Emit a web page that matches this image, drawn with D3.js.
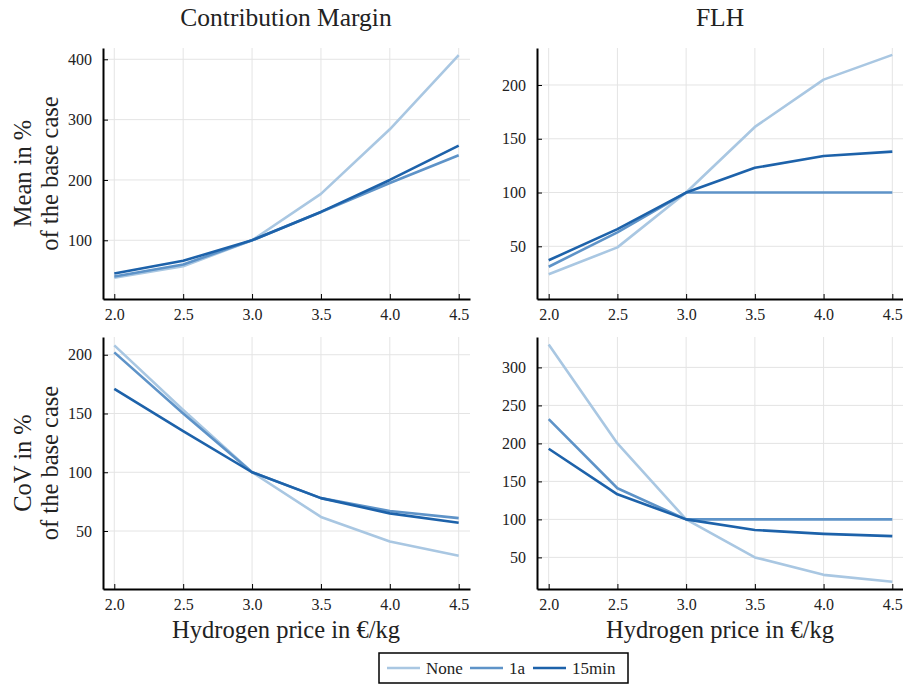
<!DOCTYPE html>
<html><head><meta charset="utf-8">
<script src="https://cdn.jsdelivr.net/npm/d3@7"></script>
<style>body{margin:0;background:#fff}svg{display:block}svg text{font-family:'Liberation Serif','DejaVu Serif','Times New Roman',serif !important;fill:#222}</style>
</head><body><svg id="c" width="903" height="686"></svg>
<script>
const xPrices = [2.0, 2.5, 3.0, 3.5, 4.0, 4.5];
const xTicks = [2.0, 2.5, 3.0, 3.5, 4.0, 4.5];
const seriesNames = ["None", "1a", "15min"];
const seriesColors = ["#a9c7e2", "#5e93c8", "#1d62aa"];

// Mean, Contribution Margin
const meanCM_None  = [38, 57, 100, 177, 284, 407];
const meanCM_1a    = [40, 60, 100, 147, 195, 241];
const meanCM_15min = [45, 66, 100, 147, 200, 257];
// Mean, FLH
const meanFLH_None  = [24, 49, 100, 161, 205, 228];
const meanFLH_1a    = [31, 63, 100, 100, 100, 100];
const meanFLH_15min = [37, 66, 100, 123, 134, 138];
// CoV, Contribution Margin
const covCM_None  = [208, 153, 100, 62, 41, 29];
const covCM_1a    = [202, 150, 100, 78, 67, 61];
const covCM_15min = [171, 135, 100, 78, 65, 57];
// CoV, FLH
const covFLH_None  = [330, 200, 100, 50, 27, 18];
const covFLH_1a    = [232, 141, 100, 100, 100, 100];
const covFLH_15min = [193, 133, 100, 86, 81, 78];

const yTicksMeanCM = [100, 200, 300, 400];
const yTicksMeanFLH = [50, 100, 150, 200];
const yTicksCovCM = [50, 100, 150, 200];
const yTicksCovFLH = [50, 100, 150, 200, 250, 300];

const titles = ["Contribution Margin", "FLH"];
const yLabels = [["Mean in %", "of the base case"], ["CoV in %", "of the base case"]];
const xLabel = "Hydrogen price in €/kg";

const FONT = "'Liberation Serif','DejaVu Serif','Times New Roman',serif";
const svg = d3.select("#c").attr("font-family", FONT);

const panels = [
  {x0:103, x1:470, xd:[1.918,4.582], y0:299, y1:48, yd:[2.7,418.7], ticks:yTicksMeanCM, data:[meanCM_None,meanCM_1a,meanCM_15min]},
  {x0:537, x1:904, xd:[1.915,4.585], y0:299, y1:48, yd:[1.0,234.4], ticks:yTicksMeanFLH, data:[meanFLH_None,meanFLH_1a,meanFLH_15min]},
  {x0:103, x1:470, xd:[1.918,4.582], y0:589, y1:337, yd:[0.65,215.1], ticks:yTicksCovCM, data:[covCM_None,covCM_1a,covCM_15min]},
  {x0:537, x1:904, xd:[1.915,4.585], y0:589, y1:337, yd:[8.4,340], ticks:yTicksCovFLH, data:[covFLH_None,covFLH_1a,covFLH_15min]},
];

panels.forEach((p, i) => {
  const x = d3.scaleLinear().domain(p.xd).range([p.x0, p.x1]);
  const y = d3.scaleLinear().domain(p.yd).range([p.y0, p.y1]);
  const g = svg.append("g");
  g.selectAll(".gx").data(xTicks).enter().append("line")
    .attr("x1", d => x(d)).attr("x2", d => x(d)).attr("y1", p.y0).attr("y2", p.y1)
    .attr("stroke", "#e4e4e4").attr("stroke-width", 1);
  g.selectAll(".gy").data(p.ticks).enter().append("line")
    .attr("x1", p.x0).attr("x2", p.x1).attr("y1", d => y(d)).attr("y2", d => y(d))
    .attr("stroke", "#e4e4e4").attr("stroke-width", 1);
  const line = d3.line().x((d, k) => x(xPrices[k])).y(d => y(d));
  p.data.forEach((s, k) => {
    g.append("path").datum(s).attr("d", line).attr("fill", "none")
      .attr("stroke", seriesColors[k]).attr("stroke-width", 2.6).attr("stroke-linejoin", "round");
  });
  const xa = d3.axisBottom(x).tickValues(xTicks).tickFormat(d3.format(".1f")).tickSizeInner(-5).tickSizeOuter(0).tickPadding(10);
  const gx = g.append("g").attr("transform", `translate(0,${p.y0})`).call(xa).attr("font-family", FONT).attr("font-size", 16);
  gx.select(".domain").attr("stroke", "#000").attr("stroke-width", 2);
  gx.selectAll(".tick line").attr("stroke", "#000").attr("stroke-width", 1);
  gx.selectAll("text").attr("fill", "#222");
  const ya = d3.axisLeft(y).tickValues(p.ticks).tickFormat(d3.format("d")).tickSizeInner(-5).tickSizeOuter(0).tickPadding(11);
  const gy = g.append("g").attr("transform", `translate(${p.x0},0)`).call(ya).attr("font-family", FONT).attr("font-size", 16);
  gy.select(".domain").attr("stroke", "#000").attr("stroke-width", 2);
  gy.selectAll(".tick line").attr("stroke", "#000").attr("stroke-width", 1);
  gy.selectAll("text").attr("fill", "#222");
});

[286, 720].forEach((cx, i) => {
  svg.append("text").attr("x", cx).attr("y", 26).attr("text-anchor", "middle").attr("font-size", 25.5).text(titles[i]);
});
[286, 720].forEach(cx => {
  svg.append("text").attr("x", cx).attr("y", 638).attr("text-anchor", "middle").attr("font-size", 24.5).text(xLabel);
});
[[173.5, 0], [463, 1]].forEach(([cy, r]) => {
  yLabels[r].forEach((t, j) => {
    const cx = 22 + j * 27;
    svg.append("text").attr("transform", `translate(${cx},${cy}) rotate(-90)`)
      .attr("text-anchor", "middle").attr("dominant-baseline", "central").attr("font-size", 24.5).text(t);
  });
});

const lg = svg.append("g");
lg.append("rect").attr("x", 379).attr("y", 653).attr("width", 249).attr("height", 30)
  .attr("fill", "#fff").attr("stroke", "#000").attr("stroke-width", 1.5);
const legX = [387, 470, 533];
seriesNames.forEach((n, k) => {
  lg.append("line").attr("x1", legX[k]).attr("x2", legX[k] + 33).attr("y1", 668).attr("y2", 668)
    .attr("stroke", seriesColors[k]).attr("stroke-width", 2.6);
  lg.append("text").attr("x", legX[k] + 39).attr("y", 668).attr("dominant-baseline", "central")
    .attr("font-size", 17).text(n);
});
</script></body></html>
